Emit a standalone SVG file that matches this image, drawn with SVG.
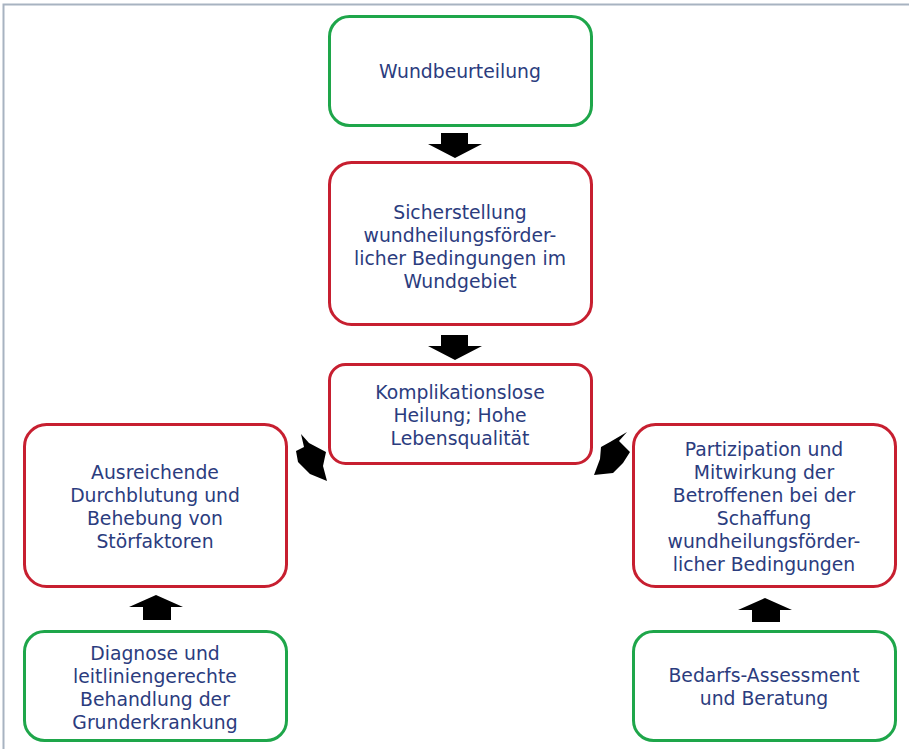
<svg xmlns="http://www.w3.org/2000/svg" width="909" height="749" viewBox="0 0 909 749">
<style>
.box{fill:#fff;stroke-width:3}
.g{stroke:#1ea64a}
.r{stroke:#c71f30}
text{font-family:"DejaVu Sans","Verdana",sans-serif;font-size:18.8px;fill:#2b3c7e;text-anchor:middle;dominant-baseline:central}
.arr{fill:#000}
</style>
<rect width="909" height="749" fill="#fff"/>
<path d="M3.5 749 V4.5 H909" fill="none" stroke="#a8b3c1" stroke-width="2"/>
<g id="wundbeurteilung"><rect class="box g" x="329.5" y="16.5" width="262" height="109" rx="20"/><text x="460" y="71">Wundbeurteilung</text></g>
<g id="sicherstellung"><rect class="box r" x="329.5" y="162.5" width="262" height="162" rx="22"/><text x="460" y="212">Sicherstellung</text><text x="460" y="235">wundheilungsförder-</text><text x="460" y="258">licher Bedingungen im</text><text x="460" y="281">Wundgebiet</text></g>
<g id="komplikationslose"><rect class="box r" x="329.5" y="364.5" width="262" height="99" rx="16"/><text x="460" y="392">Komplikationslose</text><text x="460" y="415">Heilung; Hohe</text><text x="460" y="438">Lebensqualität</text></g>
<g id="durchblutung"><rect class="box r" x="24.5" y="424.5" width="262" height="162" rx="22"/><text x="155" y="472">Ausreichende</text><text x="155" y="495">Durchblutung und</text><text x="155" y="518">Behebung von</text><text x="155" y="541">Störfaktoren</text></g>
<g id="partizipation"><rect class="box r" x="633.5" y="424.5" width="262" height="162" rx="22"/><text x="764" y="449">Partizipation und</text><text x="764" y="472">Mitwirkung der</text><text x="764" y="495">Betroffenen bei der</text><text x="764" y="518">Schaffung</text><text x="764" y="541">wundheilungsförder-</text><text x="764" y="564">licher Bedingungen</text></g>
<g id="diagnose"><rect class="box g" x="24.5" y="631.5" width="262" height="109" rx="20"/><text x="155" y="653">Diagnose und</text><text x="155" y="676">leitliniengerechte</text><text x="155" y="699">Behandlung der</text><text x="155" y="722">Grunderkrankung</text></g>
<g id="bedarfs"><rect class="box g" x="633.5" y="631.5" width="262" height="109" rx="20"/><text x="764" y="675">Bedarfs-Assessment</text><text x="764" y="698">und Beratung</text></g>
<g id="connectors" class="arr">
<polygon points="441,133 468,133 468,144 482,144 455,158 428,144 441,144"/>
<polygon points="441,335 468,335 468,346 482,346 455,360 428,346 441,346"/>
<polygon points="143,620 171,620 171,607 183,607 156,595 129,607 143,607"/>
<polygon points="752,622 780,622 780,610 792,610 765,598 738,610 752,610"/>
<polygon points="301,434 309,443 326,452 323,466 327,481 310,474 298,462 296,451 304,447"/>
<polygon points="627,432 619,441 630,452 623,463 613,473 594,475 600,459 601,447 610,442"/>
</g>
</svg>
